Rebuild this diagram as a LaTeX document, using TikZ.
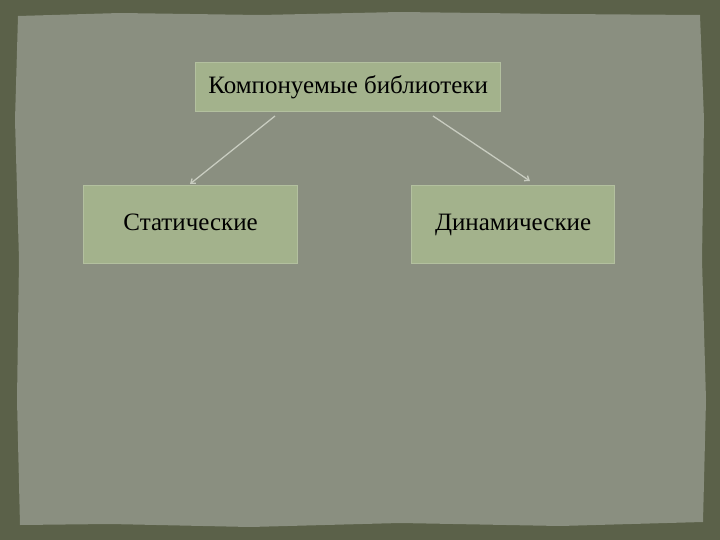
\documentclass[tikz,border=0pt]{standalone}
\usepackage{fontspec}
\setmainfont{Liberation Serif}
\usetikzlibrary{arrows.meta}
\begin{document}
\begin{tikzpicture}[x=1pt,y=-1pt,
  libbox/.style={draw=boxedge,line width=1.2pt,fill=boxfill,text=black,font=\fontsize{25}{30}\selectfont,inner sep=0pt,anchor=north west,text height=17pt,text depth=5pt},
  link/.style={draw=linkcol,line width=1.3pt,-{Straight Barb[length=4pt,width=6pt]}}]
\definecolor{frame}{HTML}{5B6149}
\definecolor{paper}{HTML}{8A8F80}
\definecolor{boxfill}{HTML}{A3B28C}
\definecolor{boxedge}{HTML}{B3C09F}
\definecolor{linkcol}{HTML}{C8CCC0}
\useasboundingbox (0,0) rectangle (720,540);
\fill[frame] (0,0) rectangle (720,540);
\fill[paper] (18,16) -- (120,13) -- (260,15) -- (400,12) -- (560,14) -- (700,15)
  -- (704,120) -- (702,260) -- (706,400) -- (703,522)
  -- (560,526) -- (400,523) -- (250,527) -- (110,524) -- (20,525)
  -- (17,400) -- (19,260) -- (15,120) -- cycle;
\node[libbox,minimum width=305pt,minimum height=49pt] (top) at (195,62) {Компонуемые библиотеки};
\node[libbox,minimum width=214pt,minimum height=78pt] (stat) at (83,185) {Статические};
\node[libbox,minimum width=203pt,minimum height=78pt] (dyn) at (411,185) {Динамические};
\coordinate (s1) at (275,116);
\coordinate (e1) at (190,184);
\coordinate (s2) at (433,116);
\coordinate (e2) at (530,181);
\draw[link] (s1) -- (e1);
\draw[link] (s2) -- (e2);
\end{tikzpicture}
\end{document}
